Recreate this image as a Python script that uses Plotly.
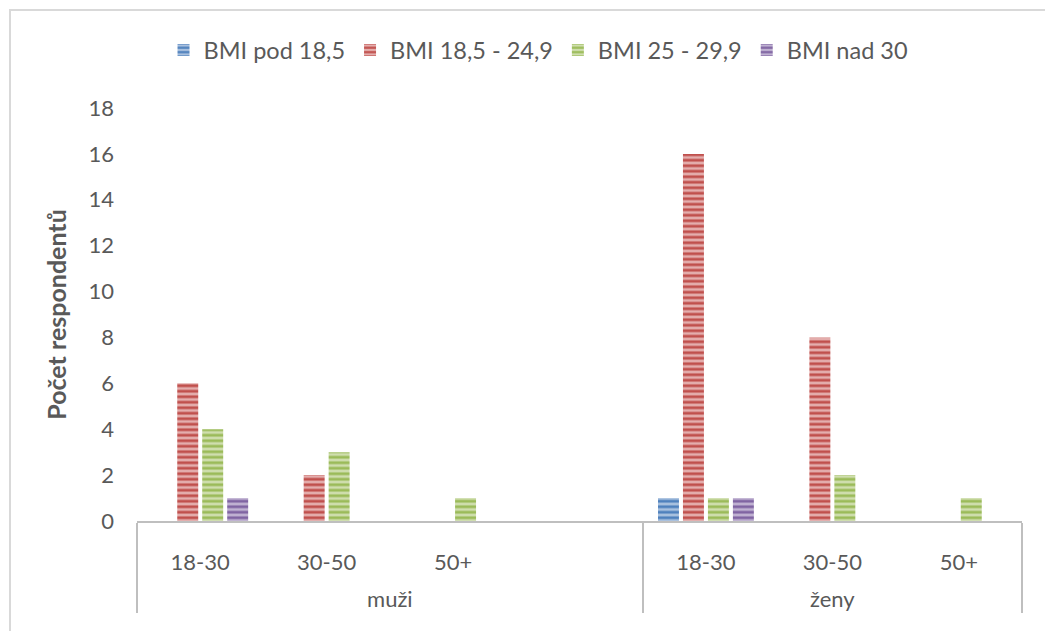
import plotly.graph_objects as go

# ---- data ----
groups = ["muži", "muži", "muži", "muži", "ženy", "ženy", "ženy"]
ages = ["18-30", "30-50", "50+", " ", "18-30", "30-50", "50+"]
series_names = ["BMI pod 18,5", "BMI 18,5 - 24,9", "BMI 25 - 29,9", "BMI nad 30"]
bmi_pod_18_5 = [0, 0, 0, None, 1, 0, 0]
bmi_18_5_24_9 = [6, 2, 0, None, 16, 8, 0]
bmi_25_29_9 = [4, 3, 1, None, 1, 2, 1]
bmi_nad_30 = [1, 0, 0, None, 1, 0, 0]
y_title = "Počet respondentů"

series_values = [bmi_pod_18_5, bmi_18_5_24_9, bmi_25_29_9, bmi_nad_30]
dark_colors = ["#4F81BD", "#C0504D", "#9BBB59", "#8064A2"]
light_colors = ["#A9C1DF", "#E4AEAD", "#CFDEAE", "#C0B2D2"]

FONT = "Lato, 'Open Sans', sans-serif"
GRAY = "#595959"

# inner-level labels get an empty second line so the outer level sits lower
age_labels = [a + "<br> " for a in ages]

fig = go.Figure()
for name, vals, dk, lt in zip(series_names, series_values, dark_colors, light_colors):
    fig.add_trace(go.Bar(
        name=name,
        x=[groups, age_labels],
        y=vals,
        marker=dict(
            color=lt,
            line=dict(width=0),
            pattern=dict(shape="-", fgcolor=dk, bgcolor=lt, size=5.5,
                         solidity=0.5, fillmode="replace"),
        ),
    ))

fig.update_layout(
    width=1045, height=631,
    margin=dict(l=137, r=23, t=108, b=110),
    paper_bgcolor="white", plot_bgcolor="white",
    barmode="group", bargap=0.21, bargroupgap=0.16,
    font=dict(family=FONT, size=22, color=GRAY),
    showlegend=True,
    legend=dict(orientation="h", x=0.4537, xanchor="center", y=1.14, yanchor="middle",
                font=dict(family=FONT, size=23.5, color=GRAY),
                itemwidth=30, traceorder="normal"),
)

fig.update_xaxes(
    type="multicategory",
    showline=True, linecolor="#BFBFBF", linewidth=2,
    showgrid=False, ticks="",
    showdividers=True, dividercolor="#BFBFBF", dividerwidth=2,
    ticklabelstandoff=21,
    tickfont=dict(family=FONT, size=22, color=GRAY),
)
fig.update_yaxes(
    range=[0, 18], dtick=2, showgrid=False, zeroline=False, showline=False,
    ticks="", ticklabelstandoff=22,
    tickfont=dict(family=FONT, size=22, color=GRAY),
    title=dict(text=y_title, font=dict(family=FONT, size=25, color=GRAY, weight="bold"),
               standoff=14),
)

# chart-area border (light gray), extending beyond the visible window
fig.add_shape(type="rect", xref="paper", yref="paper",
              x0=(10 - 137) / 885, x1=1.2, y0=-0.5, y1=(521 - 10) / 413,
              line=dict(color="#D9D9D9", width=2), fillcolor="rgba(0,0,0,0)", layer="below")

fig.write_html("out.html", config={"displayModeBar": False},
               post_script="document.body.style.margin='0';")
